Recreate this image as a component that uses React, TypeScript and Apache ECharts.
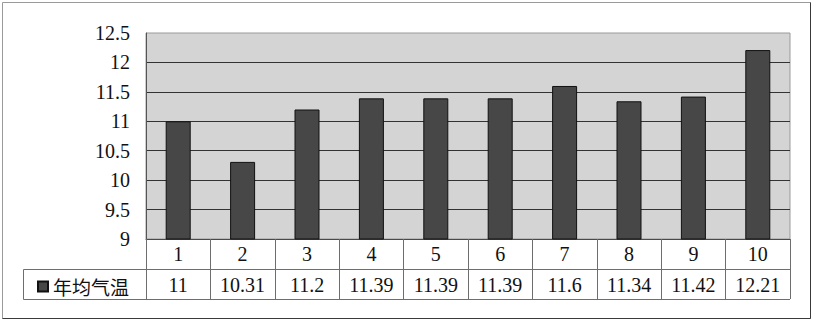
import React, { useEffect, useRef } from "react";
import * as echarts from "echarts";

const categories = ["1", "2", "3", "4", "5", "6", "7", "8", "9", "10"];
const seriesName = "年均气温";
const values = [11, 10.31, 11.2, 11.39, 11.39, 11.39, 11.6, 11.34, 11.42, 12.21];
const yMin = 9;
const yMax = 12.5;
const yInterval = 0.5;

const SERIF = "Liberation Serif";
const CJK = "Noto Sans CJK SC";
const TABLE_LINE = "#6e6e6e";

export default function App() {
  const ref = useRef<HTMLDivElement>(null);
  useEffect(() => {
    if (!ref.current) return;
    const chart = echarts.init(ref.current, null, { renderer: "svg" });
    chart.setOption({
      animation: false,
      backgroundColor: "#ffffff",
      grid: {
        left: 146,
        right: 24,
        top: 33,
        bottom: 84,
        show: true,
        backgroundColor: "#d4d4d4",
        borderColor: "#9a9a9a",
        borderWidth: 1,
      },
      legend: {
        left: 32,
        top: 272,
        icon: "rect",
        itemWidth: 10,
        itemHeight: 10,
        textStyle: { fontFamily: CJK, fontSize: 19, color: "#111" },
        data: [seriesName],
      },
      xAxis: [
        {
          type: "category",
          data: categories,
          position: "bottom",
          axisLine: { show: true, lineStyle: { color: "#4a4a4a", width: 1 } },
          axisTick: {
            show: true,
            alignWithLabel: false,
            length: 60,
            lineStyle: { color: TABLE_LINE, width: 1 },
          },
          axisLabel: {
            fontFamily: SERIF,
            fontSize: 20,
            color: "#111",
            margin: 15,
            verticalAlign: "middle",
            interval: 0,
          },
        },
        {
          type: "category",
          data: values.map((v) => String(v)),
          position: "bottom",
          offset: 30,
          axisLine: { show: true, lineStyle: { color: TABLE_LINE, width: 1 } },
          axisTick: { show: false },
          axisLabel: {
            fontFamily: SERIF,
            fontSize: 20,
            color: "#111",
            margin: 16,
            verticalAlign: "middle",
            interval: 0,
          },
        },
      ],
      yAxis: {
        type: "value",
        min: yMin,
        max: yMax,
        interval: yInterval,
        axisLine: { show: true, lineStyle: { color: "#555", width: 1 } },
        axisTick: { show: false },
        axisLabel: {
          fontFamily: SERIF,
          fontSize: 20,
          color: "#111",
          margin: 16,
        },
        splitLine: {
          show: true,
          showMaxLine: false,
          lineStyle: { color: "#333", width: 1 },
        },
      },
      series: [
        {
          name: seriesName,
          type: "bar",
          xAxisIndex: 0,
          data: values,
          barWidth: 25,
          itemStyle: { color: "#474747", borderColor: "#111", borderWidth: 1 },
        },
      ],
      graphic: [
        {
          type: "rect",
          shape: { x: 2.5, y: 2.5, width: 808, height: 316 },
          style: { fill: "none", stroke: "#9a9a9a", lineWidth: 1 },
          silent: true,
        },
        {
          type: "polyline",
          shape: { points: [[810.5, 2.5], [810.5, 318.5], [2.5, 318.5]] },
          style: { fill: "none", stroke: "#3a3a3a", lineWidth: 1 },
          silent: true,
        },
        {
          type: "polyline",
          shape: { points: [[146, 269.5], [23.5, 269.5], [23.5, 299.5], [790, 299.5]] },
          style: { fill: "none", stroke: TABLE_LINE, lineWidth: 1 },
          silent: true,
        },
      ],
    });
    return () => chart.dispose();
  }, []);
  return (
    <div
      ref={ref}
      style={{ position: "fixed", left: 0, top: 0, width: 814, height: 323 }}
    />
  );
}
